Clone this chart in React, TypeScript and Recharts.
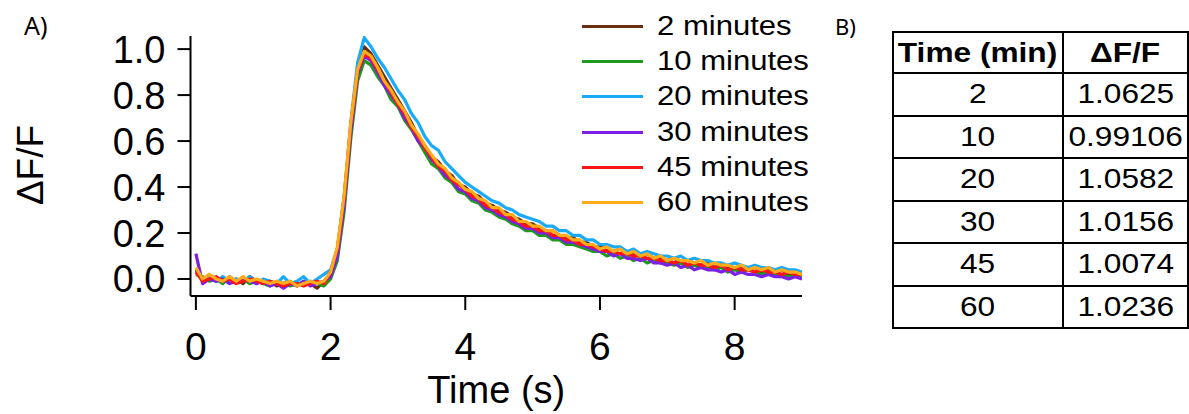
import { LineChart, Line, XAxis, YAxis, Legend, Label } from "recharts";

// time axis (s)
const TIME = [
  0.0, 0.1, 0.2, 0.3, 0.4, 0.5, 0.6, 0.7, 0.8, 0.9,
  1.0, 1.1, 1.2, 1.3, 1.4, 1.5, 1.6, 1.7, 1.8, 1.9,
  2.0, 2.1, 2.2, 2.3, 2.4, 2.5, 2.6, 2.7, 2.8, 2.9,
  3.0, 3.1, 3.2, 3.3, 3.4, 3.5, 3.6, 3.7, 3.8, 3.9,
  4.0, 4.1, 4.2, 4.3, 4.4, 4.5, 4.6, 4.7, 4.8, 4.9,
  5.0, 5.1, 5.2, 5.3, 5.4, 5.5, 5.6, 5.7, 5.8, 5.9,
  6.0, 6.1, 6.2, 6.3, 6.4, 6.5, 6.6, 6.7, 6.8, 6.9,
  7.0, 7.1, 7.2, 7.3, 7.4, 7.5, 7.6, 7.7, 7.8, 7.9,
  8.0, 8.1, 8.2, 8.3, 8.4, 8.5, 8.6, 8.7, 8.8, 8.9,
  9.0,
];

// ΔF/F traces
const MIN_2 = [
  0.04, 0.0, 0.01, -0.01, 0.0, -0.01, 0.0, -0.02, 0.01, -0.01,
  -0.02, -0.01, -0.03, -0.02, -0.01, -0.03, -0.01, -0.02, -0.04, -0.01,
  0.02, 0.11, 0.33, 0.66, 0.91, 1.01, 0.98, 0.93, 0.88, 0.83,
  0.78, 0.73, 0.68, 0.62, 0.58, 0.53, 0.51, 0.47, 0.45, 0.41,
  0.4, 0.37, 0.36, 0.33, 0.32, 0.3, 0.29, 0.27, 0.26, 0.24,
  0.24, 0.22, 0.21, 0.21, 0.19, 0.18, 0.18, 0.16, 0.16, 0.14,
  0.14, 0.13, 0.12, 0.13, 0.11, 0.11, 0.1, 0.11, 0.09, 0.09,
  0.08, 0.09, 0.07, 0.08, 0.07, 0.06, 0.07, 0.05, 0.06, 0.05,
  0.04, 0.05, 0.04, 0.05, 0.03, 0.04, 0.03, 0.04, 0.02, 0.03,
  0.02,
];

const MIN_10 = [
  0.02, 0.01, -0.01, 0.0, -0.02, 0.01, -0.01, 0.0, -0.02, -0.01,
  -0.02, -0.03, -0.01, -0.02, -0.03, -0.02, -0.02, -0.01, -0.02, -0.03,
  0.0, 0.08, 0.29, 0.61, 0.86, 0.95, 0.93, 0.88, 0.84, 0.78,
  0.75, 0.69, 0.65, 0.6, 0.55, 0.5, 0.48, 0.44, 0.42, 0.38,
  0.37, 0.34, 0.33, 0.3, 0.29, 0.27, 0.26, 0.24, 0.23, 0.21,
  0.21, 0.19, 0.19, 0.17, 0.17, 0.15, 0.15, 0.14, 0.13, 0.12,
  0.12, 0.1, 0.11, 0.09, 0.1, 0.08, 0.09, 0.07, 0.08, 0.07,
  0.07, 0.06, 0.07, 0.05, 0.06, 0.05, 0.05, 0.04, 0.05, 0.03,
  0.04, 0.03, 0.04, 0.03, 0.02, 0.03, 0.02, 0.02, 0.01, 0.02,
  0.01,
];

const MIN_20 = [
  0.03, 0.0, 0.01, -0.01, 0.01, -0.01, 0.0, -0.01, 0.01, -0.02,
  0.0, -0.01, -0.02, 0.01, -0.02, -0.01, 0.01, -0.02, 0.0, 0.02,
  0.04, 0.13, 0.35, 0.68, 0.94, 1.05, 1.01, 0.96, 0.92, 0.87,
  0.82, 0.78, 0.72, 0.68, 0.62, 0.58, 0.56, 0.51, 0.48, 0.45,
  0.42, 0.4, 0.38, 0.36, 0.34, 0.33, 0.31, 0.3, 0.28, 0.27,
  0.26, 0.25, 0.23, 0.23, 0.21, 0.21, 0.19, 0.19, 0.17, 0.17,
  0.15, 0.15, 0.14, 0.14, 0.12, 0.13, 0.11, 0.12, 0.11, 0.1,
  0.1, 0.09, 0.1, 0.08, 0.09, 0.08, 0.08, 0.07, 0.07, 0.06,
  0.07, 0.06, 0.05, 0.06, 0.05, 0.05, 0.04, 0.05, 0.04, 0.04,
  0.03,
];

const MIN_30 = [
  0.11, -0.02, 0.0, -0.01, 0.0, -0.02, -0.01, 0.0, -0.01, -0.02,
  -0.01, -0.03, -0.02, -0.04, -0.02, -0.03, -0.01, -0.03, -0.02, -0.01,
  0.01, 0.1, 0.32, 0.64, 0.89, 0.97, 0.95, 0.9, 0.84, 0.8,
  0.76, 0.7, 0.66, 0.6, 0.57, 0.52, 0.49, 0.45, 0.43, 0.39,
  0.38, 0.35, 0.34, 0.31, 0.3, 0.28, 0.27, 0.25, 0.24, 0.22,
  0.22, 0.2, 0.2, 0.18, 0.18, 0.16, 0.16, 0.15, 0.14, 0.13,
  0.12, 0.12, 0.1, 0.11, 0.09, 0.09, 0.08, 0.09, 0.07, 0.07,
  0.06, 0.07, 0.05, 0.06, 0.04, 0.05, 0.04, 0.04, 0.03, 0.04,
  0.02, 0.03, 0.02, 0.02, 0.01, 0.02, 0.01, 0.01, 0.0, 0.01,
  0.0,
];

const MIN_45 = [
  0.03, -0.01, 0.0, 0.01, -0.01, 0.0, -0.02, -0.01, 0.0, -0.01,
  -0.02, -0.01, -0.02, -0.03, -0.02, -0.02, -0.03, -0.02, -0.01, -0.02,
  0.03, 0.13, 0.35, 0.67, 0.9, 0.98, 0.96, 0.91, 0.86, 0.81,
  0.76, 0.72, 0.66, 0.62, 0.57, 0.53, 0.49, 0.47, 0.43, 0.41,
  0.39, 0.36, 0.35, 0.32, 0.31, 0.29, 0.28, 0.26, 0.25, 0.23,
  0.23, 0.21, 0.21, 0.19, 0.19, 0.17, 0.17, 0.15, 0.15, 0.14,
  0.13, 0.12, 0.12, 0.11, 0.11, 0.1, 0.1, 0.09, 0.09, 0.08,
  0.08, 0.07, 0.08, 0.06, 0.07, 0.06, 0.06, 0.05, 0.06, 0.04,
  0.05, 0.04, 0.04, 0.03, 0.04, 0.03, 0.03, 0.02, 0.03, 0.02,
  0.02,
];

const MIN_60 = [
  0.05, 0.0, 0.02, 0.0, -0.01, 0.01, -0.01, 0.01, -0.01, 0.0,
  -0.01, -0.02, -0.01, -0.02, -0.01, -0.03, -0.02, -0.01, -0.02, -0.01,
  0.03, 0.14, 0.36, 0.68, 0.91, 0.99, 0.97, 0.92, 0.86, 0.82,
  0.77, 0.73, 0.67, 0.63, 0.58, 0.54, 0.5, 0.48, 0.44, 0.42,
  0.39, 0.38, 0.35, 0.34, 0.31, 0.31, 0.28, 0.28, 0.25, 0.25,
  0.23, 0.23, 0.21, 0.21, 0.19, 0.19, 0.17, 0.17, 0.15, 0.15,
  0.13, 0.14, 0.12, 0.13, 0.11, 0.12, 0.1, 0.11, 0.09, 0.1,
  0.08, 0.09, 0.08, 0.08, 0.07, 0.08, 0.06, 0.07, 0.06, 0.06,
  0.05, 0.06, 0.04, 0.05, 0.04, 0.05, 0.03, 0.04, 0.03, 0.03,
  0.02,
];

const X_TICKS = [0, 2, 4, 6, 8];
const Y_TICKS = [0, 0.2, 0.4, 0.6, 0.8, 1.0];

// table B
const TABLE_TIMES = ["2", "10", "20", "30", "45", "60"];
const TABLE_DFF = ["1.0625", "0.99106", "1.0582", "1.0156", "1.0074", "1.0236"];

const SERIES = [
  { key: "m2", name: "2 minutes", color: "#6b2d12", values: MIN_2 },
  { key: "m10", name: "10 minutes", color: "#1e9a1e", values: MIN_10 },
  { key: "m20", name: "20 minutes", color: "#1aabf7", values: MIN_20 },
  { key: "m30", name: "30 minutes", color: "#7d1fe6", values: MIN_30 },
  { key: "m45", name: "45 minutes", color: "#ff1414", values: MIN_45 },
  { key: "m60", name: "60 minutes", color: "#ffab1a", values: MIN_60 },
];

const data = TIME.map((t, i) => {
  const row: Record<string, number> = { t };
  SERIES.forEach((s) => (row[s.key] = s.values[i]));
  return row;
});

const FONT = '"Liberation Sans", Arial, sans-serif';

function TraceLegend() {
  return (
    <div style={{ fontFamily: FONT }}>
      {SERIES.map((s) => (
        <div key={s.key} style={{ display: "flex", alignItems: "center", height: 35.2 }}>
          <div style={{ width: 61, height: 3, background: s.color, marginRight: 14 }} />
          <span
            style={{
              fontSize: 27,
              lineHeight: 1,
              color: "#000",
              display: "inline-block",
              transform: "scaleX(1.15)",
              transformOrigin: "left center",
              whiteSpace: "nowrap",
            }}
          >
            {s.name}
          </span>
        </div>
      ))}
    </div>
  );
}

const cell: React.CSSProperties = {
  border: "2px solid #000",
  padding: 0,
  textAlign: "center",
  fontSize: 28,
  lineHeight: 1,
};

const stretch: React.CSSProperties = {
  display: "inline-block",
  transform: "scaleX(1.13)",
  whiteSpace: "nowrap",
};

export default function App() {
  return (
    <div
      style={{
        position: "absolute",
        left: 0,
        top: 0,
        width: 1189,
        height: 414,
        overflow: "hidden",
        background: "#fff",
        fontFamily: FONT,
      }}
    >
      {/* panel letters */}
      <div style={{ position: "absolute", left: 24, top: 10, fontSize: 25, lineHeight: 1.2, fontFamily: '"Noto Sans", sans-serif' }}>
        A)
      </div>
      <div style={{ position: "absolute", left: 835, top: 13, fontSize: 22, lineHeight: 1.2, fontFamily: '"Noto Sans", sans-serif' }}>
        B)
      </div>

      <div style={{ position: "absolute", left: 0, top: 0 }}>
        <LineChart
          width={830}
          height={414}
          data={data}
          margin={{ top: 36, right: 28, bottom: 0, left: 0 }}
          style={{ fontFamily: FONT }}
        >
          <XAxis
            dataKey="t"
            type="number"
            domain={[-0.08, 9.0]}
            ticks={X_TICKS}
            interval={0}
            allowDataOverflow
            height={118}
            tickSize={14}
            tickMargin={22}
            tick={{ fontSize: 39, fill: "#000" }}
            axisLine={{ stroke: "#000", strokeWidth: 2 }}
            tickLine={{ stroke: "#000", strokeWidth: 2 }}
          >
            <Label value="Time (s)" position="insideBottom" offset={11} style={{ fontSize: 38, fill: "#000" }} />
          </XAxis>
          <YAxis
            type="number"
            domain={[-0.074, 1.057]}
            ticks={Y_TICKS}
            interval={0}
            allowDataOverflow
            width={190.5}
            tickSize={13}
            tickMargin={12}
            tickFormatter={(v: number) => v.toFixed(1)}
            tick={{ fontSize: 38, fill: "#000" }}
            axisLine={{ stroke: "#000", strokeWidth: 2 }}
            tickLine={{ stroke: "#000", strokeWidth: 2 }}
          >
            <Label
              content={() => (
                <text
                  x={43}
                  y={165}
                  transform="rotate(-90 43 165)"
                  textAnchor="middle"
                  style={{ fontSize: 37, fill: "#000", fontFamily: FONT }}
                >
                  ΔF/F
                </text>
              )}
            />
          </YAxis>
          <Legend
            layout="vertical"
            align="center"
            verticalAlign="middle"
            content={() => <TraceLegend />}
            wrapperStyle={{ position: "absolute", left: 582, top: 9, width: 250, height: 212 }}
          />
          {SERIES.map((s) => (
            <Line
              key={s.key}
              dataKey={s.key}
              name={s.name}
              type="linear"
              stroke={s.color}
              strokeWidth={3.2}
              strokeLinejoin="round"
              dot={false}
              isAnimationActive={false}
            />
          ))}
        </LineChart>
      </div>

      {/* panel B table */}
      <table
        style={{
          position: "absolute",
          left: 892,
          top: 31,
          borderCollapse: "collapse",
          tableLayout: "fixed",
          fontFamily: FONT,
        }}
      >
        <colgroup>
          <col style={{ width: 173 }} />
          <col style={{ width: 128 }} />
        </colgroup>
        <thead>
          <tr style={{ height: 41 }}>
            <th style={{ ...cell, fontWeight: "bold" }}>
              <span style={stretch}>Time (min)</span>
            </th>
            <th style={{ ...cell, fontWeight: "bold" }}>
              <span style={stretch}>ΔF/F</span>
            </th>
          </tr>
        </thead>
        <tbody>
          {TABLE_TIMES.map((t, i) => (
            <tr key={t} style={{ height: 42.5 }}>
              <td style={cell}>
                <span style={stretch}>{t}</span>
              </td>
              <td style={cell}>
                <span style={stretch}>{TABLE_DFF[i]}</span>
              </td>
            </tr>
          ))}
        </tbody>
      </table>
    </div>
  );
}
